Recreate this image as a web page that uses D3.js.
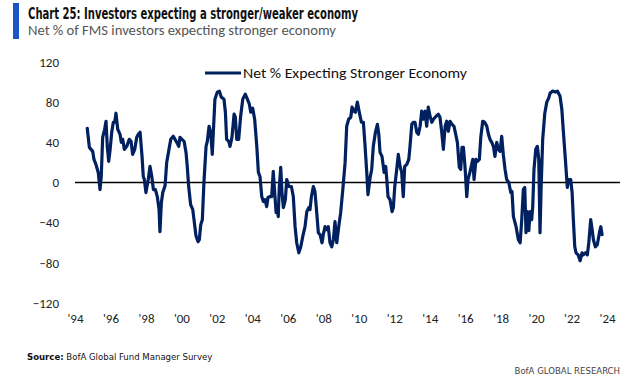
<!DOCTYPE html>
<html>
<head>
<meta charset="utf-8">
<script src="https://cdn.jsdelivr.net/npm/d3@7"></script>
<style>
  html, body { margin: 0; padding: 0; background: #fff; }
  svg { display: block; }
</style>
</head>
<body>
<svg id="chart" width="627" height="381"></svg>
<script>
// ---------- data ----------
const title = "Chart 25: Investors expecting a stronger/weaker economy";
const subtitle = "Net % of FMS investors expecting stronger economy";
const seriesName = "Net % Expecting Stronger Economy";
const sourceLabel = "Source:";
const sourceText = "BofA Global Fund Manager Survey";
const brand = "BofA GLOBAL RESEARCH";

const yTicks = [-120, -80, -40, 0, 40, 80, 120];
const xTickYears = [1994, 1996, 1998, 2000, 2002, 2004, 2006, 2008, 2010, 2012, 2014, 2016, 2018, 2020, 2022, 2024];

// survey date (decimal year) and net % expecting stronger economy
const dates = [
1994.69,1994.81,1995.00,1995.07,1995.18,1995.31,1995.41,1995.48,1995.56,1995.67,1995.75,1995.82,1995.90,1995.97,
1996.07,1996.16,1996.24,1996.31,1996.41,1996.54,1996.61,1996.69,1996.78,1996.92,
1997.06,1997.16,1997.25,1997.37,1997.48,1997.57,1997.67,1997.78,1997.85,1997.91,
1998.00,1998.13,1998.23,1998.33,1998.42,1998.53,1998.64,1998.74,1998.79,1998.87,1998.95,
1999.08,1999.17,1999.28,1999.40,1999.54,1999.64,1999.74,1999.85,1999.92,
2000.03,2000.15,2000.26,2000.33,2000.41,2000.52,2000.64,2000.71,2000.82,2000.94,
2001.01,2001.09,2001.18,2001.27,2001.39,2001.46,2001.56,2001.65,2001.74,2001.89,
2002.02,2002.14,2002.25,2002.40,2002.48,2002.55,2002.67,2002.74,2002.85,2002.97,
2003.04,2003.12,2003.23,2003.34,2003.46,2003.60,2003.72,2003.83,2003.91,
2004.02,2004.13,2004.25,2004.34,2004.43,2004.53,2004.62,2004.71,2004.81,2004.88,
2005.00,2005.09,2005.18,2005.26,2005.34,2005.41,2005.46,2005.52,2005.60,2005.67,2005.75,2005.86,2005.94,
2006.05,2006.20,2006.31,2006.41,2006.50,2006.62,2006.73,2006.84,2006.97,
2007.07,2007.18,2007.25,2007.33,2007.44,2007.53,2007.63,2007.72,2007.82,2007.93,
2008.00,2008.10,2008.19,2008.28,2008.38,2008.48,2008.57,2008.66,2008.76,2008.87,2008.98,
2009.10,2009.23,2009.32,2009.43,2009.55,2009.62,2009.73,2009.81,2009.92,
2010.03,2010.15,2010.26,2010.35,2010.45,2010.52,2010.64,2010.73,2010.82,2010.94,
2011.05,2011.13,2011.20,2011.31,2011.43,2011.52,2011.58,2011.65,2011.76,2011.88,2011.95,
2012.03,2012.14,2012.23,2012.33,2012.42,2012.51,2012.59,2012.71,2012.82,2012.89,2012.99,
2013.08,2013.17,2013.27,2013.36,2013.46,2013.55,2013.64,2013.74,2013.83,2013.92,
2014.02,2014.12,2014.21,2014.36,2014.49,2014.58,2014.68,2014.77,2014.87,2014.96,
2015.05,2015.15,2015.26,2015.37,2015.49,2015.56,2015.67,2015.75,2015.82,2015.90,2015.99,
2016.09,2016.16,2016.28,2016.43,2016.50,2016.61,2016.69,2016.80,2016.88,2016.99,
2017.10,2017.22,2017.31,2017.40,2017.50,2017.59,2017.68,2017.78,2017.87,2017.97,
2018.06,2018.15,2018.25,2018.34,2018.46,2018.57,2018.64,2018.72,2018.87,
2019.00,2019.10,2019.19,2019.28,2019.36,2019.43,2019.51,2019.59,2019.66,2019.75,2019.81,2019.88,2019.98,
2020.07,2020.15,2020.22,2020.28,2020.37,2020.49,2020.60,2020.71,2020.79,2020.94,
2021.09,2021.20,2021.35,2021.45,2021.54,2021.65,2021.76,2021.84,2021.95,
2022.03,2022.10,2022.18,2022.25,2022.37,2022.48,2022.59,2022.66,2022.78,2022.89,2022.97,
2023.08,2023.16,2023.23,2023.34,2023.45,2023.57,2023.65,2023.72
];
const netPct = [
54,35,31,23,18,10,-7,6,45,53,61,36,21,31,
50,60,60,69,53,48,40,43,33,36,
43,41,28,33,45,48,50,26,6,3,
-10,3,16,6,-7,-7,-14,-27,-49,-20,-10,
-3,20,31,43,46,43,40,36,45,
43,41,30,16,-4,-22,-27,-37,-53,-59,
-57,-42,-37,0,36,41,56,50,28,83,
90,91,85,83,70,43,41,36,45,68,
65,43,43,66,83,88,83,78,70,
74,63,36,10,6,-14,-19,-17,-24,-15,
-14,-14,11,-10,-30,-25,-34,-4,15,-10,-25,-17,3,
-4,-4,-14,-44,-60,-70,-64,-54,-44,
-29,-25,-27,-14,-4,-9,-30,-50,-52,-60,
-52,-44,-47,-44,-60,-64,-57,-39,-60,-44,-30,
-7,20,56,63,65,75,71,70,80,
70,60,60,38,10,-12,5,13,36,50,
58,48,30,26,10,16,3,-14,-17,-29,-25,
-4,13,28,16,10,-14,16,18,23,36,58,
60,60,50,48,56,71,63,71,56,75,
66,60,63,66,68,65,50,33,56,61,
51,61,58,56,46,40,15,13,35,35,16,
-14,3,11,23,3,23,21,23,45,61,
60,56,48,43,40,36,26,40,33,31,
46,28,13,3,0,-10,-9,-34,-44,
-57,-60,-37,-7,-5,-50,-29,-48,-29,-37,-24,13,33,
36,23,-50,-7,43,69,80,84,89,91,
90,91,86,73,50,23,-5,3,3,
-10,-37,-64,-70,-72,-78,-70,-72,-70,-72,-60,
-37,-47,-57,-64,-62,-50,-44,-52
];

// ---------- layout ----------
const svg = d3.select("#chart");
const font = "Calibri, Carlito, Lato, 'Open Sans', sans-serif";
const navy = "#002060";

const x = d3.scaleLinear().domain([1994, 2024.73]).range([75, 620]);
const y = d3.scaleLinear().domain([-120, 120]).range([303, 62]);

// title block
svg.append("rect").attr("x", 13).attr("y", 3).attr("width", 6).attr("height", 36).attr("fill", "#1a56c8");
svg.append("text").attr("x", 28).attr("y", 19)
  .attr("font-family", "'Liberation Sans Narrow', 'DejaVu Sans Condensed', 'Roboto', sans-serif")
  .attr("font-weight", "bold").attr("font-size", 16).attr("fill", "#111")
  .attr("textLength", 330).attr("lengthAdjust", "spacingAndGlyphs")
  .text(title);
svg.append("text").attr("x", 28).attr("y", 35)
  .attr("font-family", font).attr("font-size", 14).attr("fill", "#555")
  .attr("textLength", 308).attr("lengthAdjust", "spacingAndGlyphs")
  .text(subtitle);

// y axis
const yAxis = svg.append("g").attr("transform", "translate(59,0)")
  .call(d3.axisLeft(y).tickValues(yTicks).tickSize(0).tickPadding(0).tickFormat(d3.format("d")));
yAxis.select(".domain").remove();
yAxis.selectAll("text").attr("font-family", font).attr("font-size", 13).attr("fill", "#222");

// x axis
const xAxis = svg.append("g").attr("transform", "translate(0,314)")
  .call(d3.axisBottom(x).tickValues(xTickYears).tickSize(0).tickPadding(0)
    .tickFormat(d => "'" + String(d).slice(2)));
xAxis.select(".domain").remove();
xAxis.selectAll("text").attr("font-family", font).attr("font-size", 13).attr("fill", "#222");

// zero line
svg.append("line")
  .attr("x1", x.range()[0]).attr("x2", x.range()[1])
  .attr("y1", y(0)).attr("y2", y(0))
  .attr("stroke", "#000").attr("stroke-width", 1.3);

// series
const pts = dates.map((d, i) => [d, netPct[i]]);
svg.append("path")
  .datum(pts)
  .attr("fill", "none")
  .attr("stroke", navy)
  .attr("stroke-width", 3.2)
  .attr("stroke-linejoin", "round")
  .attr("stroke-linecap", "round")
  .attr("d", d3.line().x(d => x(d[0])).y(d => y(d[1])));

// legend
const lg = svg.append("g").attr("transform", "translate(205,73)");
lg.append("line").attr("x1", 0).attr("x2", 36).attr("y1", 0).attr("y2", 0)
  .attr("stroke", navy).attr("stroke-width", 3.2);
lg.append("text").attr("x", 38).attr("y", 5)
  .attr("font-family", font).attr("font-size", 14).attr("fill", "#111")
  .attr("textLength", 224).attr("lengthAdjust", "spacingAndGlyphs")
  .text(seriesName);

// footer
const ft = svg.append("text").attr("x", 27).attr("y", 360)
  .attr("font-family", "'Liberation Sans Narrow', 'DejaVu Sans Condensed', sans-serif")
  .attr("font-size", 9.5).attr("fill", "#111");
ft.append("tspan").attr("font-weight", "bold").text(sourceLabel);
ft.append("tspan").text("  " + sourceText);
svg.append("text").attr("x", 620).attr("y", 374).attr("text-anchor", "end")
  .attr("font-family", "'Liberation Sans Narrow', 'DejaVu Sans Condensed', sans-serif")
  .attr("font-size", 9.5).attr("fill", "#444")
  .text(brand);
</script>
</body>
</html>
